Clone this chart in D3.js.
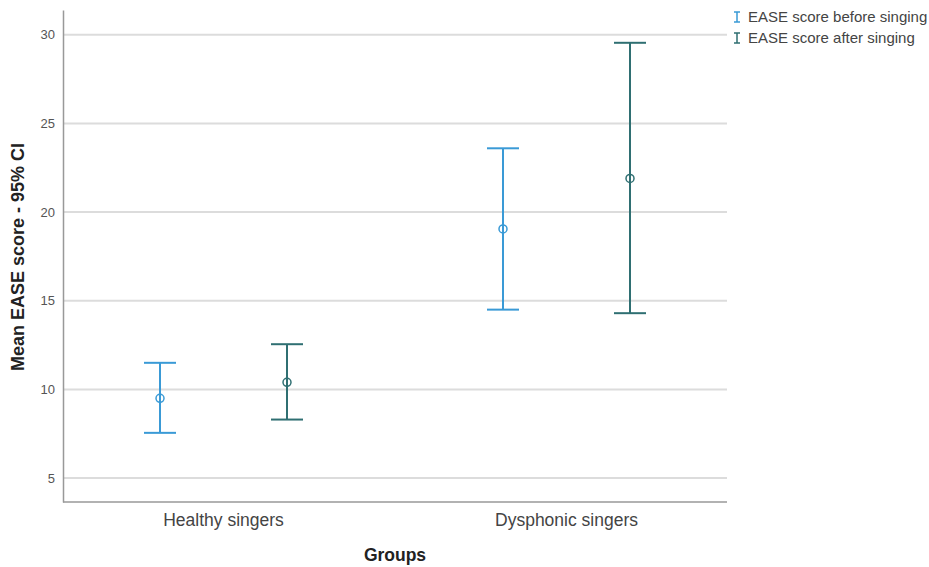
<!DOCTYPE html>
<html>
<head>
<meta charset="utf-8">
<script src="https://cdn.jsdelivr.net/npm/d3@7"></script>
<style>
  body { margin: 0; background: #fff; }
  svg { font-family: Arial, "Liberation Sans", sans-serif; }
</style>
</head>
<body>
<svg id="chart" width="929" height="567"></svg>
<script>
// data
const groups = ["Healthy singers", "Dysphonic singers"];
const series = ["EASE score before singing", "EASE score after singing"];
const colors = ["#3a9ad6", "#2f6f72"];
const means = [[9.5, 10.4], [19.05, 21.9]];
const lower = [[7.55, 8.3], [14.5, 14.3]];
const upper = [[11.5, 12.55], [23.6, 29.55]];
const yTicks = [5, 10, 15, 20, 25, 30];

const margin = { top: 10, right: 202, bottom: 65, left: 63 };
const width = 929, height = 567;
const plotRight = width - margin.right;
const svg = d3.select("#chart");

const y = d3.scaleLinear().domain([3.65, 31.4]).range([height - margin.bottom, margin.top]);
// category bands are a little off-centre in the original
const x = d3.scaleBand().domain(groups).range([52, 738]);
const xs = d3.scalePoint().domain(series).range([-63.5, 63.5]);

// gridlines
svg.append("g")
  .selectAll("line")
  .data(yTicks)
  .join("line")
  .attr("x1", margin.left).attr("x2", plotRight)
  .attr("y1", d => y(d)).attr("y2", d => y(d))
  .attr("stroke", "#dcdcdc").attr("stroke-width", 2);

// axes
const yAxis = svg.append("g")
  .attr("transform", `translate(${margin.left},0)`)
  .call(d3.axisLeft(y).tickValues(yTicks).tickSize(0).tickPadding(8));
yAxis.select(".domain").attr("stroke", "#999").attr("stroke-width", 1.5);
yAxis.selectAll("text").attr("font-size", 13).attr("fill", "#555");

const xAxis = svg.append("g")
  .attr("transform", `translate(0,${height - margin.bottom})`)
  .call(d3.axisBottom(x).tickSize(0).tickPadding(12));
xAxis.select(".domain").remove();
xAxis.selectAll("text").attr("font-size", 17.5).attr("fill", "#444");
svg.append("line")
  .attr("x1", margin.left).attr("x2", plotRight)
  .attr("y1", height - margin.bottom).attr("y2", height - margin.bottom)
  .attr("stroke", "#999").attr("stroke-width", 1.5);

// axis titles
svg.append("text")
  .attr("transform", `translate(24,257) rotate(-90)`)
  .attr("text-anchor", "middle")
  .attr("font-size", 18).attr("font-weight", "bold").attr("fill", "#222")
  .text("Mean EASE score - 95% CI");

svg.append("text")
  .attr("x", 395).attr("y", 561)
  .attr("text-anchor", "middle")
  .attr("font-size", 17.5).attr("font-weight", "bold").attr("fill", "#222")
  .text("Groups");

// error bars
const rows = [];
groups.forEach((g, i) => series.forEach((s, j) => rows.push({
  g, s, color: colors[j], mean: means[i][j], lo: lower[i][j], hi: upper[i][j]
})));

const capW = 16;
const bar = svg.append("g").selectAll("g")
  .data(rows)
  .join("g")
  .attr("transform", d => `translate(${x(d.g) + x.bandwidth() / 2 + xs(d.s)},0)`);

bar.append("line")
  .attr("y1", d => y(d.lo)).attr("y2", d => y(d.hi))
  .attr("stroke", d => d.color).attr("stroke-width", 2);
bar.selectAll(".cap")
  .data(d => [d.lo, d.hi].map(v => ({ v, color: d.color })))
  .join("line")
  .attr("x1", -capW).attr("x2", capW)
  .attr("y1", d => y(d.v)).attr("y2", d => y(d.v))
  .attr("stroke", d => d.color).attr("stroke-width", 2);
bar.append("circle")
  .attr("cy", d => y(d.mean)).attr("r", 4)
  .attr("fill", "none").attr("stroke", d => d.color).attr("stroke-width", 1.5);

// legend
const legend = svg.append("g").attr("transform", "translate(737,17)");
const item = legend.selectAll("g")
  .data(series)
  .join("g")
  .attr("transform", (d, i) => `translate(0,${i * 21})`);
item.append("path")
  .attr("d", "M-3,-5H3M0,-5V5M-3,5H3")
  .attr("stroke", (d, i) => colors[i]).attr("stroke-width", 1.5).attr("fill", "none");
item.append("text")
  .attr("x", 11).attr("y", 5)
  .attr("font-size", 15).attr("fill", "#444")
  .text(d => d);
</script>
</body>
</html>
